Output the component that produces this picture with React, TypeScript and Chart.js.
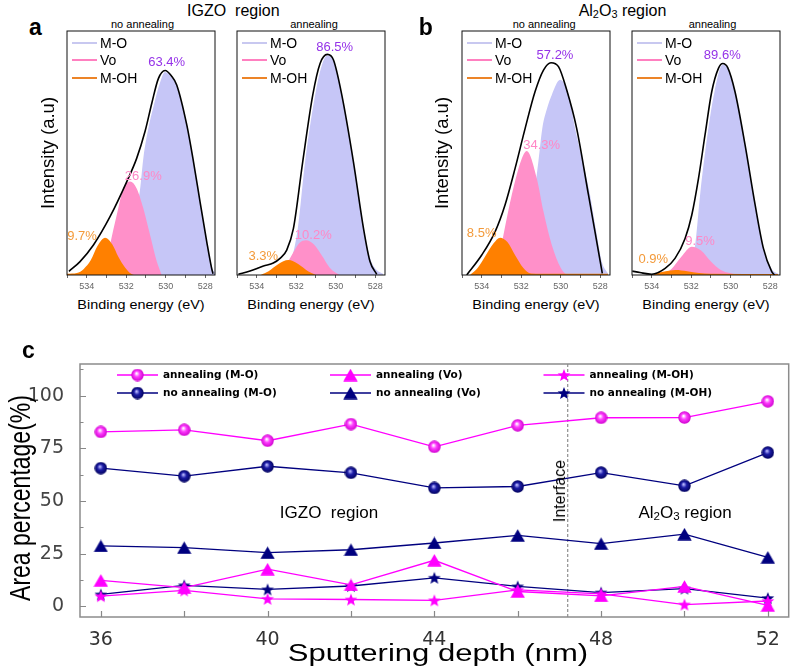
import React, { useEffect, useRef } from 'react';
import { Chart, registerables } from 'chart.js';

Chart.register(...registerables);

type Pt = [number, number];

// ---------- (a)/(b) O 1s spectra: [binding energy (eV), intensity (a.u.)] ----------
const IGZO_NOANN_ENV: Pt[] = [[534.9,1.5],[534.34,5.5],[533.66,12.3],[532.82,23.9],[531.97,38.3],[531.47,47.8],[531.04,59],[530.7,70.5],[530.37,80.5],[530.03,83.8],[529.7,81.5],[529.44,77.9],[528.93,61.5],[528.59,46.4],[528.26,30.1],[527.92,13.7],[527.67,2.7],[527.6,0.5]];
const IGZO_NOANN_MO: Pt[] = [[533.0,0],[532.5,2],[532.0,8],[531.6,20],[531.3,35],[531.13,48],[530.88,60],[530.62,69],[530.28,79],[530.03,83.2],[529.7,81],[529.44,77.5],[528.93,61.5],[528.59,46.4],[528.26,30.1],[527.92,13.7],[527.62,2.5],[527.5,1]];
const IGZO_NOANN_VO: Pt[] = [[533.16,0],[532.99,5.5],[532.82,12.3],[532.48,24.6],[532.14,35.5],[531.8,38.3],[531.47,35.5],[531.13,27.3],[530.79,16.4],[530.45,5.5],[530.2,0]];
const IGZO_NOANN_OH: Pt[] = [[535,0.5],[534.5,0.8],[534.15,2.5],[533.8,6],[533.45,12],[533.07,15.3],[532.7,12.5],[532.4,7.5],[532.05,3],[531.75,0.5],[531.6,0]];

const IGZO_ANN_ENV: Pt[] = [[534.93,0.3],[534.34,1.6],[533.66,3.7],[533.16,4.9],[532.82,6.8],[532.48,10.2],[532.14,19.1],[531.67,46.4],[531.16,73.8],[530.79,86.7],[530.42,90.4],[530.11,88.1],[529.69,73.8],[529.1,46.4],[528.59,19.1],[528.26,5.5],[527.92,0.3]];
const IGZO_ANN_MO: Pt[] = [[533.2,0],[532.7,1],[532.3,5],[531.92,19.1],[531.55,46.4],[531.04,73.8],[530.7,86],[530.42,90],[530.11,87.8],[529.69,73.8],[529.1,46.4],[528.59,19.1],[528.26,7],[527.92,2],[527.6,0.5]];
const IGZO_ANN_VO: Pt[] = [[533.0,0],[532.6,3],[532.2,8.5],[531.85,13],[531.5,14.2],[531.1,12.5],[530.7,8],[530.3,3],[529.8,0]];
const IGZO_ANN_OH: Pt[] = [[533.8,0],[533.4,1.5],[532.9,4.5],[532.4,6.1],[531.9,4.5],[531.4,1.5],[531.0,0]];

const AL_NOANN_ENV: Pt[] = [[534.76,0],[534.0,8.2],[533.32,17.8],[532.82,28.7],[532.31,43.7],[531.8,60.1],[531.3,75.1],[530.87,84],[530.49,87],[530.11,85.4],[529.7,76],[529.19,60.1],[528.59,32.8],[528.29,19.1],[527.89,0.7]];
const AL_NOANN_MO: Pt[] = [[532.8,0],[532.3,4],[531.8,14],[531.4,30],[531.13,46.4],[530.93,60.1],[530.7,68],[530.45,73.8],[530.03,80],[529.6,74],[529.27,60.1],[528.9,47],[528.51,32.8],[528.2,18],[527.92,5.5],[527.6,0.5]];
const AL_NOANN_VO: Pt[] = [[533.4,0],[533.1,8],[532.9,16.4],[532.48,32.8],[532.0,47],[531.72,50.8],[531.21,39.6],[530.87,26],[530.45,12.3],[530.0,3],[529.7,0]];
const AL_NOANN_OH: Pt[] = [[534.6,0],[534.2,3],[533.8,8],[533.4,13],[533.07,15.3],[532.7,13.5],[532.3,8],[531.9,3],[531.5,0.6],[531.0,0.5],[527.6,0.5]];

const AL_ANN_ENV: Pt[] = [[534.98,1.6],[534.6,1.0],[534.0,0.3],[533.32,2.7],[532.82,6.8],[532.31,15],[531.97,24.6],[531.63,39.6],[531.3,57.4],[530.96,75.1],[530.62,84.7],[530.4,86.7],[530.15,85],[529.78,75.1],[529.27,53.3],[528.76,28.7],[528.34,10.9],[527.92,1.4],[527.78,0]];
const AL_ANN_MO: Pt[] = [[532.5,0.5],[532.1,4],[531.8,12.3],[531.55,32.8],[531.13,60.1],[530.82,75.1],[530.4,86.3],[530.1,84],[529.78,75],[529.27,53],[528.76,28.7],[528.34,11],[527.92,2.5],[527.6,0.5]];
const AL_ANN_VO: Pt[] = [[533.5,0],[533.0,2.5],[532.5,7.5],[531.97,11.6],[531.5,10],[531.0,5.5],[530.5,2],[529.6,0]];
const AL_ANN_OH: Pt[] = [[533.9,0.3],[533.3,1.5],[532.8,2],[532.2,1.5],[531.6,0.8],[531.0,0.5],[527.6,0.4]];

const ENERGY_TICKS = [528, 529, 530, 531, 532, 533, 534, 535];
const ENERGY_LABELS = [528, 530, 532, 534];
const ENERGY_MIN = 527.5;
const ENERGY_MAX = 535;

const COMPONENTS = ['M-O', 'Vo', 'M-OH'];
const PCT_IGZO_NOANN = [63.4, 26.9, 9.7];
const PCT_IGZO_ANN = [86.5, 10.2, 3.3];
const PCT_AL_NOANN = [57.2, 34.3, 8.5];
const PCT_AL_ANN = [89.6, 9.5, 0.9];

// ---------- (c) area percentage vs sputtering depth ----------
const DEPTH = [36, 38, 40, 42, 44, 46, 48, 50, 52];
const ANN_MO = [82.8, 83.8, 78.6, 86.5, 75.7, 85.9, 89.5, 89.6, 97.3];
const NOANN_MO = [65.6, 61.8, 66.5, 63.4, 56.2, 56.9, 63.5, 57.2, 73.0];
const ANN_VO = [12.4, 8.9, 17.7, 10.2, 21.9, 7.1, 5.0, 9.5, 0.5];
const NOANN_VO = [28.7, 27.9, 25.5, 26.9, 30.1, 33.7, 29.8, 34.3, 23.3];
const ANN_OH = [4.9, 7.6, 3.6, 3.3, 2.9, 7.9, 6.0, 0.9, 2.6];
const NOANN_OH = [5.7, 10.0, 8.1, 9.7, 13.6, 9.5, 6.6, 8.5, 4.0];
const SERIES_LABELS = ['annealing (M-O)', 'no annealing (M-O)', 'annealing (Vo)', 'no annealing (Vo)', 'annealing (M-OH)', 'no annealing (M-OH)'];
const DEPTH_TICKS = [36, 38, 40, 42, 44, 46, 48, 50, 52];
const DEPTH_LABELS = [36, 40, 44, 48, 52];
const AREA_TICKS = [0, 12.5, 25, 37.5, 50, 62.5, 75, 87.5, 100, 112.5];
const AREA_LABELS = [0, 25, 50, 75, 100];
const INTERFACE_DEPTH = 47.2;

// ---------- styling ----------
const FONT = '"Liberation Sans", Arial, Helvetica, sans-serif';
const DV = '"DejaVu Sans", sans-serif';
const FILL_MO = '#c6c6f7';
const FILL_VO = '#ff90c9';
const FILL_OH = '#ff8000';
const LEG_COLORS = ['#c8c8f0', '#ff80c0', '#ec8428'];
const PCT_COLORS = ['#9532e8', '#ff88c6', '#f39a3a'];
const MAGENTA = '#ff00ff';
const NAVY = '#00007f';

const boxPlugin = (color: string, width: number) => ({
  id: 'frameBox',
  afterDraw(chart: any) {
    const { ctx, chartArea: a } = chart;
    ctx.save();
    ctx.strokeStyle = color;
    ctx.lineWidth = width;
    ctx.strokeRect(a.left, a.top, a.right - a.left, a.bottom - a.top);
    ctx.restore();
  },
});

type Box = { l: number; t: number; w: number; h: number };

function Spectrum({ box, env, mo, vo, oh }: { box: Box; env: Pt[]; mo: Pt[]; vo: Pt[]; oh: Pt[] }) {
  const ref = useRef<HTMLCanvasElement>(null);
  const cw = box.w + 2;
  const ch = box.h + 1 + 18;
  useEffect(() => {
    const xy = (arr: Pt[]) => arr.map(([x, y]) => ({ x, y }));
    const comp = (label: string, arr: Pt[], color: string) => ({
      label,
      data: xy(arr),
      borderWidth: 0,
      borderColor: 'rgba(0,0,0,0)',
      backgroundColor: color,
      fill: 'origin',
      pointRadius: 0,
      cubicInterpolationMode: 'monotone',
    });
    const chart = new Chart(ref.current!, {
      type: 'line',
      data: {
        datasets: [
          { label: 'envelope', data: xy(env), borderColor: '#000', borderWidth: 1.6, fill: false, pointRadius: 0, cubicInterpolationMode: 'monotone' },
          comp('M-OH', oh, FILL_OH),
          comp('Vo', vo, FILL_VO),
          comp('M-O', mo, FILL_MO),
        ] as any,
      },
      options: {
        animation: false,
        responsive: false,
        devicePixelRatio: 1,
        events: [],
        layout: { padding: { left: 1, right: 1, top: 1, bottom: 0 } },
        plugins: { legend: { display: false }, tooltip: { enabled: false } },
        scales: {
          x: {
            type: 'linear',
            min: ENERGY_MIN,
            max: ENERGY_MAX,
            reverse: true,
            afterBuildTicks: (s: any) => { s.ticks = ENERGY_TICKS.map((v) => ({ value: v })); },
            afterFit: (s: any) => { s.height = 18; },
            grid: { display: true, drawOnChartArea: false, drawTicks: true, tickLength: 3, color: '#666', tickColor: '#666' },
            border: { display: false },
            ticks: {
              autoSkip: false,
              maxRotation: 0,
              padding: 3,
              color: '#666',
              font: { family: FONT, size: 9 },
              callback: (v: any) => (ENERGY_LABELS.includes(Number(v)) ? String(v) : ''),
            },
          },
          y: { display: false, min: 0, max: 100 },
        },
      } as any,
      plugins: [boxPlugin('#111', 1)],
    });
    return () => chart.destroy();
  }, []);
  return (
    <canvas
      ref={ref}
      width={cw}
      height={ch}
      style={{ position: 'absolute', left: box.l - 1, top: box.t - 1, width: cw, height: ch }}
    />
  );
}

function makeSphere(base: string, light: string, dark: string, size: number) {
  const c = document.createElement('canvas');
  c.width = size; c.height = size;
  const ctx = c.getContext('2d')!;
  const r = size / 2;
  const g = ctx.createRadialGradient(r * 0.85, r * 0.75, 0.4, r, r, r);
  g.addColorStop(0, light);
  g.addColorStop(0.4, base);
  g.addColorStop(1, dark);
  ctx.fillStyle = g;
  ctx.beginPath();
  ctx.arc(r, r, r - 0.3, 0, Math.PI * 2);
  ctx.fill();
  return c;
}

function makeTriangle(color: string, w: number, h: number) {
  const c = document.createElement('canvas');
  c.width = w; c.height = h;
  const ctx = c.getContext('2d')!;
  ctx.fillStyle = color;
  ctx.beginPath();
  ctx.moveTo(w / 2, 0.3);
  ctx.lineTo(w - 0.3, h - 0.3);
  ctx.lineTo(0.3, h - 0.3);
  ctx.closePath();
  ctx.fill();
  return c;
}

function makeStar(color: string, size: number) {
  const c = document.createElement('canvas');
  c.width = size; c.height = size;
  const ctx = c.getContext('2d')!;
  const r = size / 2;
  const ro = r - 0.3;
  const ri = ro * 0.42;
  ctx.fillStyle = color;
  ctx.beginPath();
  for (let k = 0; k < 10; k++) {
    const rad = k % 2 === 0 ? ro : ri;
    const ang = -Math.PI / 2 + (k * Math.PI) / 5;
    const px = r + rad * Math.cos(ang);
    const py = r + 0.6 + rad * Math.sin(ang);
    if (k === 0) ctx.moveTo(px, py); else ctx.lineTo(px, py);
  }
  ctx.closePath();
  ctx.fill();
  return c;
}

const LEGEND_SLOTS = [
  { ds: 0, col: 0, row: 0 }, { ds: 1, col: 0, row: 1 },
  { ds: 2, col: 1, row: 0 }, { ds: 3, col: 1, row: 1 },
  { ds: 4, col: 2, row: 0 }, { ds: 5, col: 2, row: 1 },
];
const LEGEND_COL_X = [37, 250, 463.5];
const LEGEND_ROW_Y = [11, 29];

const legendPlugin = {
  id: 'insideLegend',
  afterDraw(chart: any) {
    const { ctx, chartArea: a } = chart;
    ctx.save();
    ctx.font = `bold 10.5px ${DV}`;
    ctx.textBaseline = 'middle';
    ctx.textAlign = 'left';
    LEGEND_SLOTS.forEach(({ ds, col, row }) => {
      const d = chart.data.datasets[ds];
      const x0 = a.left + LEGEND_COL_X[col];
      const y = a.top + LEGEND_ROW_Y[row];
      ctx.strokeStyle = d.borderColor;
      ctx.lineWidth = 1.4;
      ctx.beginPath();
      ctx.moveTo(x0, y);
      ctx.lineTo(x0 + 41, y);
      ctx.stroke();
      const img = d.pointStyle as HTMLCanvasElement;
      ctx.drawImage(img, x0 + 20.5 - img.width / 2, y - img.height / 2);
      ctx.fillStyle = '#000';
      ctx.fillText(d.label, x0 + 46, y + 0.5);
    });
    ctx.restore();
  },
};

const inwardTicks = {
  id: 'inwardTicks',
  afterDraw(chart: any) {
    const { ctx, chartArea: a, scales } = chart;
    ctx.save();
    ctx.strokeStyle = '#888';
    ctx.lineWidth = 1.2;
    ctx.beginPath();
    scales.x.ticks.forEach((t: any) => {
      const px = Math.round(scales.x.getPixelForValue(t.value)) + 0.5;
      ctx.moveTo(px, a.bottom);
      ctx.lineTo(px, a.bottom - 6);
    });
    scales.y.ticks.forEach((t: any) => {
      const py = Math.round(scales.y.getPixelForValue(t.value)) + 0.5;
      const len = AREA_LABELS.includes(t.value) ? 6 : 3.5;
      ctx.moveTo(a.left, py);
      ctx.lineTo(a.left + len, py);
    });
    ctx.stroke();
    ctx.restore();
  },
};

function AreaChart() {
  const ref = useRef<HTMLCanvasElement>(null);
  useEffect(() => {
    const sphM = makeSphere('#ff3cff', '#ffffff', '#cc00cc', 13);
    const sphN = makeSphere('#1c1ca6', '#b8b8ff', '#00005a', 13);
    const triM = makeTriangle(MAGENTA, 15, 13);
    const triN = makeTriangle(NAVY, 15, 13);
    const starM = makeStar(MAGENTA, 14);
    const starN = makeStar(NAVY, 14);
    const series = (label: string, vals: number[], color: string, style: HTMLCanvasElement) => ({
      label,
      data: DEPTH.map((d, i) => ({ x: d, y: vals[i] })),
      borderColor: color,
      backgroundColor: color,
      borderWidth: 1.3,
      pointStyle: style,
      pointRadius: 7,
      fill: false,
      tension: 0,
    });
    const chart = new Chart(ref.current!, {
      type: 'line',
      data: {
        datasets: [
          series(SERIES_LABELS[0], ANN_MO, MAGENTA, sphM),
          series(SERIES_LABELS[1], NOANN_MO, NAVY, sphN),
          series(SERIES_LABELS[2], ANN_VO, MAGENTA, triM),
          series(SERIES_LABELS[3], NOANN_VO, NAVY, triN),
          series(SERIES_LABELS[4], ANN_OH, MAGENTA, starM),
          series(SERIES_LABELS[5], NOANN_OH, NAVY, starN),
          {
            label: 'Interface',
            data: [{ x: INTERFACE_DEPTH, y: -5 }, { x: INTERFACE_DEPTH, y: 115 }],
            borderColor: '#777',
            borderWidth: 1,
            borderDash: [3, 2],
            pointRadius: 0,
            fill: false,
          },
        ] as any,
      },
      options: {
        animation: false,
        responsive: false,
        devicePixelRatio: 1,
        events: [],
        layout: { padding: { left: 0, right: 1, top: 34, bottom: 0 } },
        plugins: { legend: { display: false }, tooltip: { enabled: false } },
        scales: {
          x: {
            type: 'linear',
            min: 35.5,
            max: 52.5,
            afterBuildTicks: (s: any) => { s.ticks = DEPTH_TICKS.map((v) => ({ value: v })); },
            afterFit: (s: any) => { s.height = 52; },
            grid: { display: false },
            border: { display: false },
            ticks: {
              autoSkip: false,
              maxRotation: 0,
              padding: 4,
              color: '#333',
              font: { family: DV, size: 19 },
              callback: (v: any) => (DEPTH_LABELS.includes(Number(v)) ? String(v) : ''),
            },
          },
          y: {
            min: -5,
            max: 115,
            afterBuildTicks: (s: any) => { s.ticks = AREA_TICKS.map((v) => ({ value: v })); },
            afterFit: (s: any) => { s.width = 80; },
            grid: { display: false },
            border: { display: false },
            ticks: {
              autoSkip: false,
              padding: 8,
              color: '#444',
              font: { family: DV, size: 19 },
              callback: (v: any) => (AREA_LABELS.includes(Number(v)) ? String(v) : ''),
            },
          },
        },
      } as any,
      plugins: [boxPlugin('#8c8c8c', 1.5), inwardTicks, legendPlugin],
    });
    return () => chart.destroy();
  }, []);
  return (
    <canvas ref={ref} width={797} height={339} style={{ position: 'absolute', left: 0, top: 330, width: 797, height: 339 }} />
  );
}

function T({ x, y, size, children, color = '#000', weight = 'normal', tf = '', family = FONT }: any) {
  return (
    <div
      style={{
        position: 'absolute', left: x, top: y,
        transform: `translate(-50%,-50%) ${tf}`,
        fontSize: size, color, fontWeight: weight, fontFamily: family,
        lineHeight: 1, whiteSpace: 'pre',
      }}
    >
      {children}
    </div>
  );
}

const SUB: React.CSSProperties = { fontSize: '0.68em', verticalAlign: '-0.22em', lineHeight: 0 };

function PanelLegend({ box }: { box: Box }) {
  const rows = [43, 60.3, 78];
  return (
    <>
      {COMPONENTS.map((name, i) => (
        <React.Fragment key={name}>
          <div style={{ position: 'absolute', left: box.l + 4.5, top: rows[i] - 1, width: 25, height: 2, background: LEG_COLORS[i] }} />
          <div style={{ position: 'absolute', left: box.l + 33, top: rows[i], transform: 'translateY(-50%)', fontFamily: FONT, fontSize: 14, lineHeight: 1, whiteSpace: 'pre' }}>{name}</div>
        </React.Fragment>
      ))}
    </>
  );
}

const BOX_A_L: Box = { l: 67, t: 31, w: 148, h: 244 };
const BOX_A_R: Box = { l: 237, t: 31, w: 148, h: 244 };
const BOX_B_L: Box = { l: 462, t: 31, w: 148, h: 244 };
const BOX_B_R: Box = { l: 632, t: 31, w: 148, h: 244 };

function Pcts({ vals, pos }: { vals: number[]; pos: [number, number][] }) {
  return (
    <>
      {vals.map((v, i) => (
        <T key={i} x={pos[i][0]} y={pos[i][1]} size={13} color={PCT_COLORS[i]}>{`${v.toFixed(1)}%`}</T>
      ))}
    </>
  );
}

export default function App() {
  const boxes = [BOX_A_L, BOX_A_R, BOX_B_L, BOX_B_R];
  return (
    <div style={{ position: 'absolute', left: 0, top: 0, width: 797, height: 669, background: '#fff', overflow: 'hidden', fontFamily: FONT }}>
      <Spectrum box={BOX_A_L} env={IGZO_NOANN_ENV} mo={IGZO_NOANN_MO} vo={IGZO_NOANN_VO} oh={IGZO_NOANN_OH} />
      <Spectrum box={BOX_A_R} env={IGZO_ANN_ENV} mo={IGZO_ANN_MO} vo={IGZO_ANN_VO} oh={IGZO_ANN_OH} />
      <Spectrum box={BOX_B_L} env={AL_NOANN_ENV} mo={AL_NOANN_MO} vo={AL_NOANN_VO} oh={AL_NOANN_OH} />
      <Spectrum box={BOX_B_R} env={AL_ANN_ENV} mo={AL_ANN_MO} vo={AL_ANN_VO} oh={AL_ANN_OH} />
      {boxes.map((b, i) => <PanelLegend key={i} box={b} />)}
      {boxes.map((b, i) => (
        <T key={'be' + i} x={b.l + b.w / 2} y={304.5} size={12} tf="scaleX(1.2)">Binding energy (eV)</T>
      ))}
      <Pcts vals={PCT_IGZO_NOANN} pos={[[166.7, 61.3], [143.3, 175.3], [82, 235.3]]} />
      <Pcts vals={PCT_IGZO_ANN} pos={[[334.7, 46.3], [313.3, 233.7], [263.3, 254.7]]} />
      <Pcts vals={PCT_AL_NOANN} pos={[[555, 53.7], [541.7, 143.7], [481.7, 232]]} />
      <Pcts vals={PCT_AL_ANN} pos={[[722.3, 53.7], [700, 240.3], [653.3, 258]]} />

      <T x={233.3} y={10.8} size={16}>IGZO  region</T>
      <T x={622.5} y={10.8} size={16}>Al<sub style={SUB}>2</sub>O<sub style={SUB}>3</sub> region</T>
      <T x={142.5} y={24.2} size={11}>no annealing</T>
      <T x={314} y={24.2} size={11}>annealing</T>
      <T x={544.2} y={24.2} size={11}>no annealing</T>
      <T x={712.5} y={24.2} size={11}>annealing</T>
      <T x={35.5} y={26.8} size={23} weight="bold">a</T>
      <T x={425.8} y={26.8} size={23} weight="bold">b</T>
      <T x={47.7} y={153} size={18.5} tf="rotate(-90deg)">Intensity (a.u)</T>
      <T x={442.3} y={153} size={18.5} tf="rotate(-90deg)">Intensity (a.u)</T>

      <AreaChart />
      <T x={28.3} y={350} size={23} weight="bold">c</T>
      <T x={20} y={497.5} size={23} tf="rotate(-90deg) scaleY(1.3)">Area percentage(%)</T>
      <T x={438.3} y={653.3} size={23} tf="scaleX(1.35)">Sputtering depth (nm)</T>
      <T x={329} y={511.7} size={17}>IGZO  region</T>
      <T x={685} y={511.7} size={17}>Al<sub style={SUB}>2</sub>O<sub style={SUB}>3</sub> region</T>
      <T x={560.3} y={490.8} size={16} tf="rotate(-90deg)">Interface</T>
    </div>
  );
}
